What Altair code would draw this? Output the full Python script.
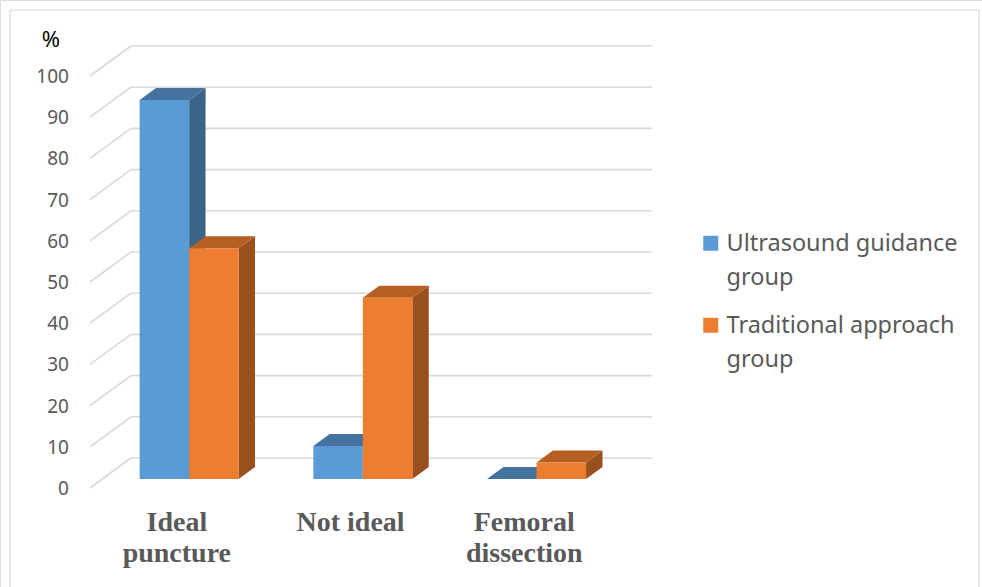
import altair as alt
import pandas as pd

# ---------------- data ----------------
categories = ["Ideal puncture", "Not ideal", "Femoral dissection"]
series = ["Ultrasound guidance group", "Traditional approach group"]
ultrasound = [92, 8, 0]
traditional = [56, 44, 4]
y_ticks = [0, 10, 20, 30, 40, 50, 60, 70, 80, 90, 100]

# ---------------- styles / projection layout ----------------
front_colors = ["#5B9BD5", "#ED7D31"]
top_colors = ["#44739F", "#B65F23"]
side_colors = ["#3A6488", "#9A501E"]
grid_color = "#D9D9D9"
text_color = "#595959"

BAR_W = 0.285          # bar width in category units
D_FRONT, D_BACK = 0.3, 0.7   # bar depth range (0 = front plane, 1 = back wall)
DX = 0.236             # x shift (category units) per unit of depth
DY = 7.28              # y shift (value units) per unit of depth
X_DOMAIN = [-0.518, 5.135]
Y_DOMAIN = [-24.03, 118.45]

xs = alt.Scale(domain=X_DOMAIN, nice=False, zero=False)
ys = alt.Scale(domain=Y_DOMAIN, nice=False, zero=False)

values = {series[0]: ultrasound, series[1]: traditional}

front_rows, side_rows, top_rows = [], [], []
for i, cat in enumerate(categories):
    for j, s in enumerate(series):
        v = values[s][i]
        a = i + 0.5 - BAR_W + j * BAR_W
        b = a + BAR_W
        bid = f"{i}-{j}"
        sxf, syf = D_FRONT * DX, D_FRONT * DY
        sxb, syb = D_BACK * DX, D_BACK * DY
        front_rows.append(dict(series=s, category=cat, value=v,
                               x=a + sxf, x2=b + sxf, y=syf, y2=v + syf))
        side_rows.append(dict(series=s, id=bid, x=b + sxf, y=syf, y2=v + syf))
        side_rows.append(dict(series=s, id=bid, x=b + sxb, y=syb, y2=v + syb))
        top_rows.append(dict(series=s, id=bid, y=v + syf, x=a + sxf, x2=b + sxf))
        top_rows.append(dict(series=s, id=bid, y=v + syb, x=a + sxb, x2=b + sxb))

front_df = pd.DataFrame(front_rows)
side_df = pd.DataFrame(side_rows)
top_df = pd.DataFrame(top_rows)

n = len(categories)
grid_df = pd.DataFrame({
    "v": y_ticks,
    "vb": [t + DY for t in y_ticks],
    "x0": [0.0] * len(y_ticks),
    "xb": [DX] * len(y_ticks),
    "xe": [n + DX] * len(y_ticks),
})


def wrap(label):
    if len(label) > 10 and " " in label:
        k = label.index(" ")
        return label[:k] + "\n" + label[k + 1:]
    return label


cat_df = pd.DataFrame({
    "x": [i + 0.5 for i in range(n)],
    "y": [0.0] * n,
    "label": [wrap(c) for c in categories],
})

# ---------------- layers ----------------
back_grid = alt.Chart(grid_df).mark_rule(color=grid_color, strokeWidth=1.6).encode(
    x=alt.X("xb:Q", scale=xs, axis=None),
    x2="xe:Q",
    y=alt.Y("vb:Q", scale=ys, axis=None),
)
diag_grid = alt.Chart(grid_df).mark_rule(color=grid_color, strokeWidth=1.6).encode(
    x=alt.X("x0:Q", scale=xs, axis=None),
    x2="xb:Q",
    y=alt.Y("v:Q", scale=ys, axis=None),
    y2="vb:Q",
)
tick_labels = alt.Chart(grid_df).mark_text(
    align="right", baseline="middle", dx=-21, dy=1, font="Noto Sans",
    fontSize=19, color=text_color
).encode(
    x=alt.X("x0:Q", scale=xs, axis=None),
    y=alt.Y("v:Q", scale=ys, axis=None),
    text=alt.Text("v:Q"),
)

side = alt.Chart(side_df).mark_area(interpolate="linear", opacity=1).encode(
    x=alt.X("x:Q", scale=xs, axis=None),
    y=alt.Y("y:Q", scale=ys, axis=None, stack=None),
    y2="y2:Q",
    detail="id:N",
    color=alt.Color("series:N", scale=alt.Scale(domain=series, range=side_colors), legend=None),
)
top = alt.Chart(top_df).mark_area(interpolate="linear", orient="horizontal", opacity=1).encode(
    y=alt.Y("y:Q", scale=ys, axis=None),
    x=alt.X("x:Q", scale=xs, axis=None, stack=None),
    x2="x2:Q",
    detail="id:N",
    color=alt.Color("series:N", scale=alt.Scale(domain=series, range=top_colors), legend=None),
)
front = alt.Chart(front_df).mark_rect(opacity=1).encode(
    x=alt.X("x:Q", scale=xs, axis=None),
    x2="x2:Q",
    y=alt.Y("y:Q", scale=ys, axis=None),
    y2="y2:Q",
    color=alt.Color(
        "series:N",
        scale=alt.Scale(domain=series, range=front_colors),
        legend=alt.Legend(
            title=None, orient="none", legendX=699, legendY=239, padding=0,
            symbolType="M-1,-2H1V0H-1Z", symbolSize=225, symbolStrokeWidth=0,
            symbolOpacity=1,
            labelFont="Noto Sans", labelFontSize=23.5, labelColor=text_color,
            labelBaseline="alphabetic", labelOffset=4, labelLimit=500,
            rowPadding=23,
            labelExpr="[slice(datum.label, 0, lastindexof(datum.label, ' ')), "
                      "slice(datum.label, lastindexof(datum.label, ' ') + 1)]",
        ),
    ),
    tooltip=["category:N", "series:N", "value:Q"],
)

cat_labels = alt.Chart(cat_df).mark_text(
    align="center", baseline="alphabetic", dy=43, font="Liberation Serif",
    fontWeight="bold", fontSize=28, lineHeight=31, lineBreak="\n", color=text_color
).encode(
    x=alt.X("x:Q", scale=xs, axis=None),
    y=alt.Y("y:Q", scale=ys, axis=None),
    text="label:N",
)

one = alt.Data(values=[{}])
pct = alt.Chart(one).mark_text(text="%", font="Noto Sans", fontSize=22, color="#000000").encode(
    x=alt.value(51), y=alt.value(40)
)
border_top = alt.Chart(one).mark_rule(color=grid_color, strokeWidth=1.2).encode(
    x=alt.value(10), x2=alt.value(979), y=alt.value(10)
)
border_left = alt.Chart(one).mark_rule(color=grid_color, strokeWidth=1.2).encode(
    x=alt.value(10), y=alt.value(10), y2=alt.value(587)
)
border_right = alt.Chart(one).mark_rule(color=grid_color, strokeWidth=1.2).encode(
    x=alt.value(979), y=alt.value(10), y2=alt.value(587)
)

chart = alt.layer(
    border_top, border_left, border_right,
    back_grid, diag_grid, tick_labels,
    side, top, front,
    cat_labels, pct,
).resolve_scale(color="independent").properties(
    width=982, height=587, autosize=alt.AutoSizeParams(type="none"), padding=0,
    background="white",
).configure_view(stroke=None).configure(
    style={"guide-label": {"lineHeight": 34}}
)

chart.save("out.html", embed_options={"renderer": "svg", "actions": False})
